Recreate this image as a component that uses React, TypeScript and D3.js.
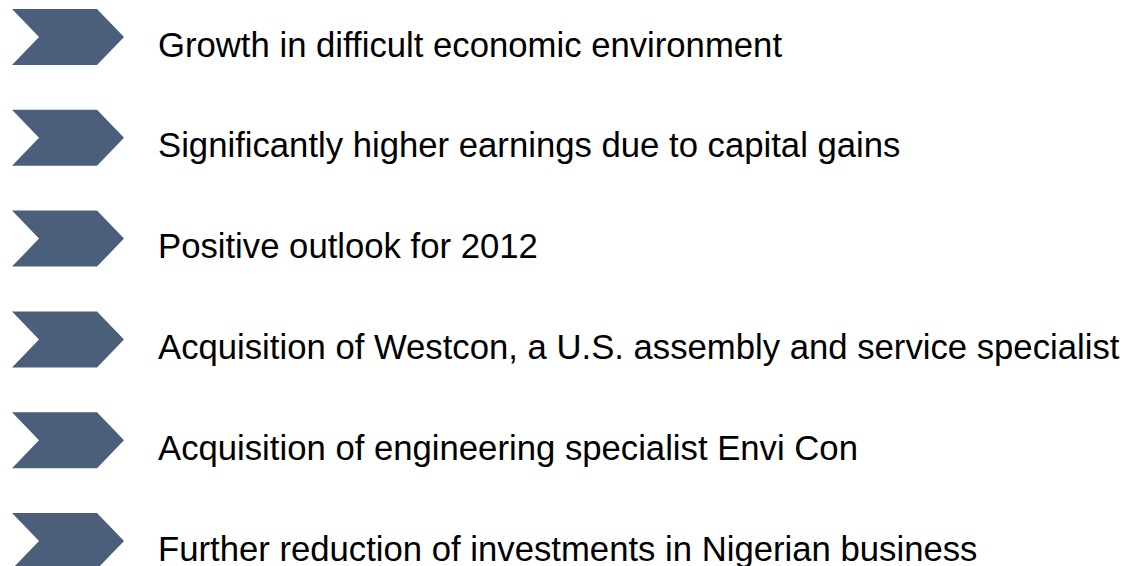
import * as d3 from 'd3'
import { useEffect, useRef } from 'react'

const width = 1125, height = 566

const items = [
  'Growth in difficult economic environment',
  'Significantly higher earnings due to capital gains',
  'Positive outlook for 2012',
  'Acquisition of Westcon, a U.S. assembly and service specialist',
  'Acquisition of engineering specialist Envi Con',
  'Further reduction of investments in Nigerian business',
]

const chevronColor = '#4b5f7a'

const draw = (node: SVGSVGElement) => {
  const svg = d3.select(node)
  svg.selectAll('*').remove()

  const y = d3.scalePoint<number>()
    .domain(d3.range(items.length))
    .range([37, 541])

  // chevron geometry, relative to row centre
  const x0 = 12, notch = 27, w = 112, h = 56
  const chevron = (cy: number) => {
    const p = d3.path()
    p.moveTo(x0, cy - h / 2)
    p.lineTo(x0 + w - notch, cy - h / 2)
    p.lineTo(x0 + w, cy)
    p.lineTo(x0 + w - notch, cy + h / 2)
    p.lineTo(x0, cy + h / 2)
    p.lineTo(x0 + notch, cy)
    p.closePath()
    return p.toString()
  }

  const row = svg.append('g')
    .selectAll('g')
    .data(items)
    .join('g')

  row.append('path')
    .attr('d', (_, i) => chevron(y(i)!))
    .attr('fill', chevronColor)

  row.append('text')
    .attr('x', 158)
    .attr('y', (_, i) => y(i)! + 19.5)
    .attr('font-family', 'Arial, "Liberation Sans", sans-serif')
    .attr('font-size', 34.7)
    .attr('fill', '#000')
    .text(d => d)
}

export default function App() {
  const ref = useRef<SVGSVGElement>(null)
  useEffect(() => {
    if (ref.current) draw(ref.current)
  }, [])
  return (
    <svg
      ref={ref}
      width={width}
      height={height}
      style={{ position: 'absolute', left: 0, top: 0, background: '#fff' }}
    />
  )
}
